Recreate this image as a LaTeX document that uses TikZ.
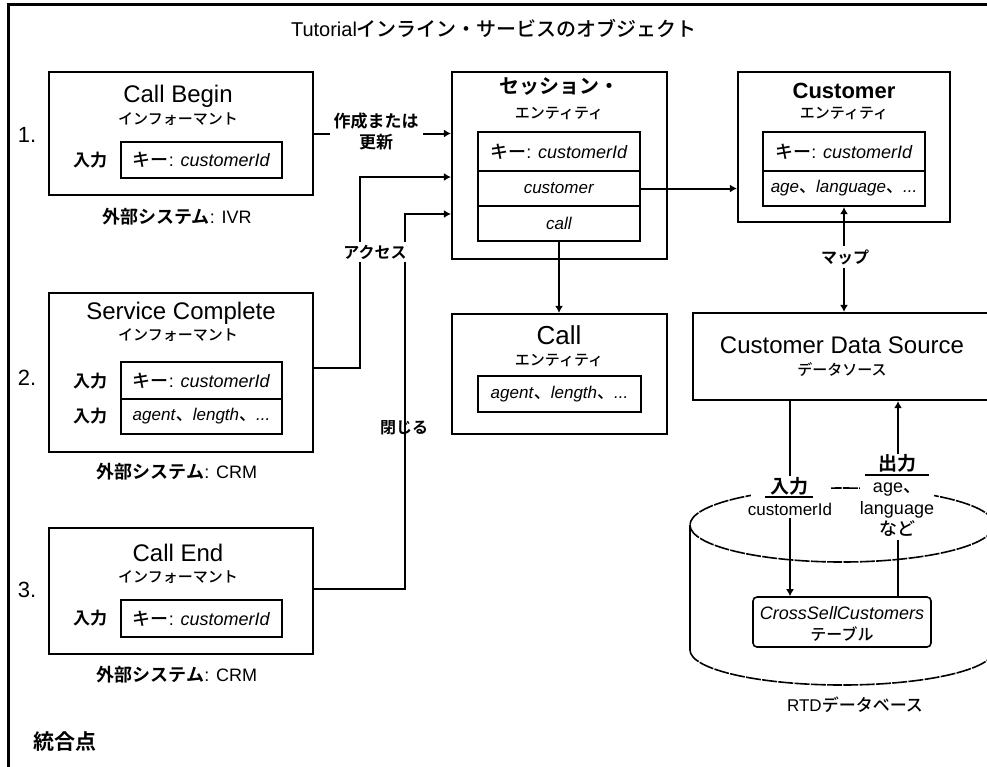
\documentclass[tikz,border=0pt]{standalone}
\usepackage{fontspec}
\setmainfont{Liberation Sans}
\newfontfamily\jp{Noto Sans CJK JP}[UprightFont=* Medium, BoldFont=* Bold]
\usetikzlibrary{arrows.meta}
\newcommand\fsz[1]{\fontsize{#1}{#1}\selectfont}
\newcommand\J[1]{{\jp #1}}
\newcommand\JB[1]{{\jp\bfseries #1}}

\begin{document}
\begin{tikzpicture}[x=1pt,y=-1pt,
  box/.style={draw, line width=2.2pt, inner sep=0pt},
  cell/.style={draw, line width=2.2pt, inner sep=0pt, minimum width=162pt},
  txt/.style={inner sep=0pt, align=center},
  wire/.style={line width=2pt},
  arr/.style={wire, -{Latex[length=7pt,width=8pt]}},
  dbl/.style={wire, {Latex[length=7pt,width=8pt]}-{Latex[length=7pt,width=8pt]}},
  cyl/.style={line width=1.6pt},
  cover/.style={fill=white, inner sep=0pt},
]
\useasboundingbox (0,0) rectangle (987,766);
\clip (0,0) rectangle (987,766);

% outer frame
\draw[line width=3pt] (8,4) rectangle (1000,790);
\node[txt] (title) at (494,28) {\fsz{20}Tutorial\J{インライン・サービスのオブジェクト}};

% ---- informants ----
\node[box, minimum width=264pt, minimum height=123pt] (cb) at (181,133.5) {};
\node[txt] (cbname) at (178,96) {\fsz{24}Call Begin};
\node[txt] (cbkind) at (178,119) {\fsz{15}\J{インフォーマント}};
\node[cell, minimum width=161pt, minimum height=36pt] (cbkey) at (201.5,160) {\fsz{18}\J{キー}: \textit{customerId}};
\node[txt] (cbin) at (90,160) {\fsz{17}\JB{入力}};
\node[txt] (cbsys) at (177,217) {\fsz{18}\JB{外部システム}: IVR};
\node[txt] (n1) at (27,135) {\fsz{22}1.};

\node[box, minimum width=264pt, minimum height=159pt] (sc) at (181,372.5) {};
\node[txt] (scname) at (181,313) {\fsz{24}Service Complete};
\node[txt] (sckind) at (178,335) {\fsz{15}\J{インフォーマント}};
\node[cell, minimum width=161pt, minimum height=37pt] (sckey) at (201.5,380.5) {\fsz{18}\J{キー}: \textit{customerId}};
\node[cell, minimum width=161pt, minimum height=35pt] (scval) at (201.5,416.5) {\fsz{17}\textit{agent}\J{、}\textit{length}\J{、}\textit{...}};
\node[txt] (scin1) at (90,381) {\fsz{17}\JB{入力}};
\node[txt] (scin2) at (90,416) {\fsz{17}\JB{入力}};
\node[txt] (scsys) at (177,472) {\fsz{18}\JB{外部システム}: CRM};
\node[txt] (n2) at (27,378) {\fsz{22}2.};

\node[box, minimum width=264pt, minimum height=126pt] (ce) at (181,591) {};
\node[txt] (cename) at (178,553) {\fsz{24}Call End};
\node[txt] (cekind) at (178,577) {\fsz{15}\J{インフォーマント}};
\node[cell, minimum width=161pt, minimum height=37pt] (cekey) at (201.5,618.5) {\fsz{18}\J{キー}: \textit{customerId}};
\node[txt] (cein) at (90,618) {\fsz{17}\JB{入力}};
\node[txt] (cesys) at (177,675) {\fsz{18}\JB{外部システム}: CRM};
\node[txt] (n3) at (27,590) {\fsz{22}3.};

\node[txt, anchor=west] (ipts) at (33,742) {\fsz{21}\JB{統合点}};

% ---- session entity ----
\node[box, minimum width=215pt, minimum height=187pt] (ses) at (559.5,165.5) {};
\node[txt] (sesname) at (559,87) {\fsz{20}\JB{セッション・}};
\node[txt] (seskind) at (559,113) {\fsz{15}\J{エンティティ}};
\node[cell, minimum height=39pt] (sk) at (559,151.5) {\fsz{18}\J{キー}: \textit{customerId}};
\node[cell, minimum height=35pt] (sv) at (559,188.5) {\fsz{17}\textit{customer}};
\node[cell, minimum height=35pt] (sl) at (559,223.5) {\fsz{17}\textit{call}};

% ---- customer entity ----
\node[box, minimum width=212pt, minimum height=150pt] (cus) at (844,147) {};
\node[txt] (cusname) at (844,91) {\fsz{22}\bfseries Customer};
\node[txt] (cuskind) at (844,113) {\fsz{15}\J{エンティティ}};
\node[cell, minimum height=39pt] (ck) at (844,151.5) {\fsz{18}\J{キー}: \textit{customerId}};
\node[cell, minimum height=35pt] (ca) at (844,188.5) {\fsz{17}\textit{age}\J{、}\textit{language}\J{、}\textit{...}};

% ---- call entity ----
\node[box, minimum width=215pt, minimum height=120pt] (call) at (559.5,374) {};
\node[txt] (callname) at (559,335) {\fsz{26}Call};
\node[txt] (callkind) at (559,360) {\fsz{15}\J{エンティティ}};
\node[cell, minimum width=163pt, minimum height=36pt] (cv) at (559.5,394) {\fsz{17}\textit{agent}\J{、}\textit{length}\J{、}\textit{...}};

% ---- data source ----
\node[box, minimum width=298pt, minimum height=87pt] (cds) at (842,356.5) {};
\node[txt] (cdsname) at (842,345) {\fsz{24}Customer Data Source};
\node[txt] (cdskind) at (842,370) {\fsz{15}\J{データソース}};

% ---- database cylinder ----
\draw[cyl, dash pattern=on 15pt off 1.3pt] (842,525) ellipse [x radius=152pt, y radius=37pt];
\draw[cyl] (690,525) -- (690,650);
\draw[cyl] (994,525) -- (994,650);
\draw[cyl, dash pattern=on 15pt off 1.3pt] (690,650) arc[start angle=180, end angle=360, x radius=152pt, y radius=35pt];
\node[draw, line width=1.6pt, rounded corners=4pt, minimum width=178pt, minimum height=50pt, inner sep=0pt] (tbl) at (842,622) {};
\node[txt] (tblname) at (842,613) {\fsz{18}\textit{CrossSellCustomers}};
\node[txt] (tblkind) at (842,634) {\fsz{16}\J{テーブル}};
\node[txt] (db) at (855,705) {\fsz{17}RTD\J{データベース}};

% ---- connectors ----
\coordinate (acc) at (360,177);
\coordinate (cls) at (405,214);
\coordinate (inx) at (790,496);
\coordinate (outx) at (898,496);

\draw[arr] (cb.east) -- (cb.east -| ses.west);
\draw[arr] ([yshift=4.5pt]sc.east) -| (acc) -- (acc -| ses.west);
\draw[arr] ([yshift=2pt]ce.east) -| (cls) -- (cls -| ses.west);
\draw[arr] (sv.east) -- (sv.east -| cus.west);
\draw[arr] (sl.south) -- (sl.south |- call.north);
\draw[dbl] (ca.south) -- (ca.south |- cds.north);
\draw[arr, line width=1.7pt] (cds.south -| inx) -- (tbl.north -| inx);
\draw[arr, line width=1.7pt] (tbl.north -| outx) -- (cds.south -| outx);

% connector labels
\node[txt, cover, inner xsep=4pt, inner ysep=2pt, font={\fontsize{17}{21}\selectfont\jp\bfseries}] (mk) at (376,131) {作成または\\更新};
\node[txt, cover, inner xsep=1pt, inner ysep=3pt] (accl) at (375,252) {\fsz{16}\JB{アクセス}};
\node[txt] (clsl) at (404,428) {\fsz{16}\JB{閉じる}};
\node[txt, cover, inner xsep=2pt, inner ysep=3pt] (mapl) at (845,257) {\fsz{16}\JB{マップ}};

\node[cover, minimum width=80pt, minimum height=42pt] (inbg) at (791,496.5) {};
\node[txt] (inA) at (789,486) {\fsz{19}\JB{入力}};
\draw[line width=1.6pt] (765,497) -- (813,497);
\node[txt] (inB) at (790,509) {\fsz{17}customerId};

\node[cover, minimum width=74pt, minimum height=86pt] (outbg) at (897,497) {};
\node[txt] (outA) at (897,463) {\fsz{19}\JB{出力}};
\draw[line width=1.6pt] (865,475) -- (929,475);
\node[txt] (outB) at (897,490) {\fsz{18}age\J{、}};
\node[txt] (outC) at (897,510) {\fsz{18}language};
\node[txt] (outD) at (897,529) {\fsz{18}\J{など}};
\end{tikzpicture}
\end{document}
